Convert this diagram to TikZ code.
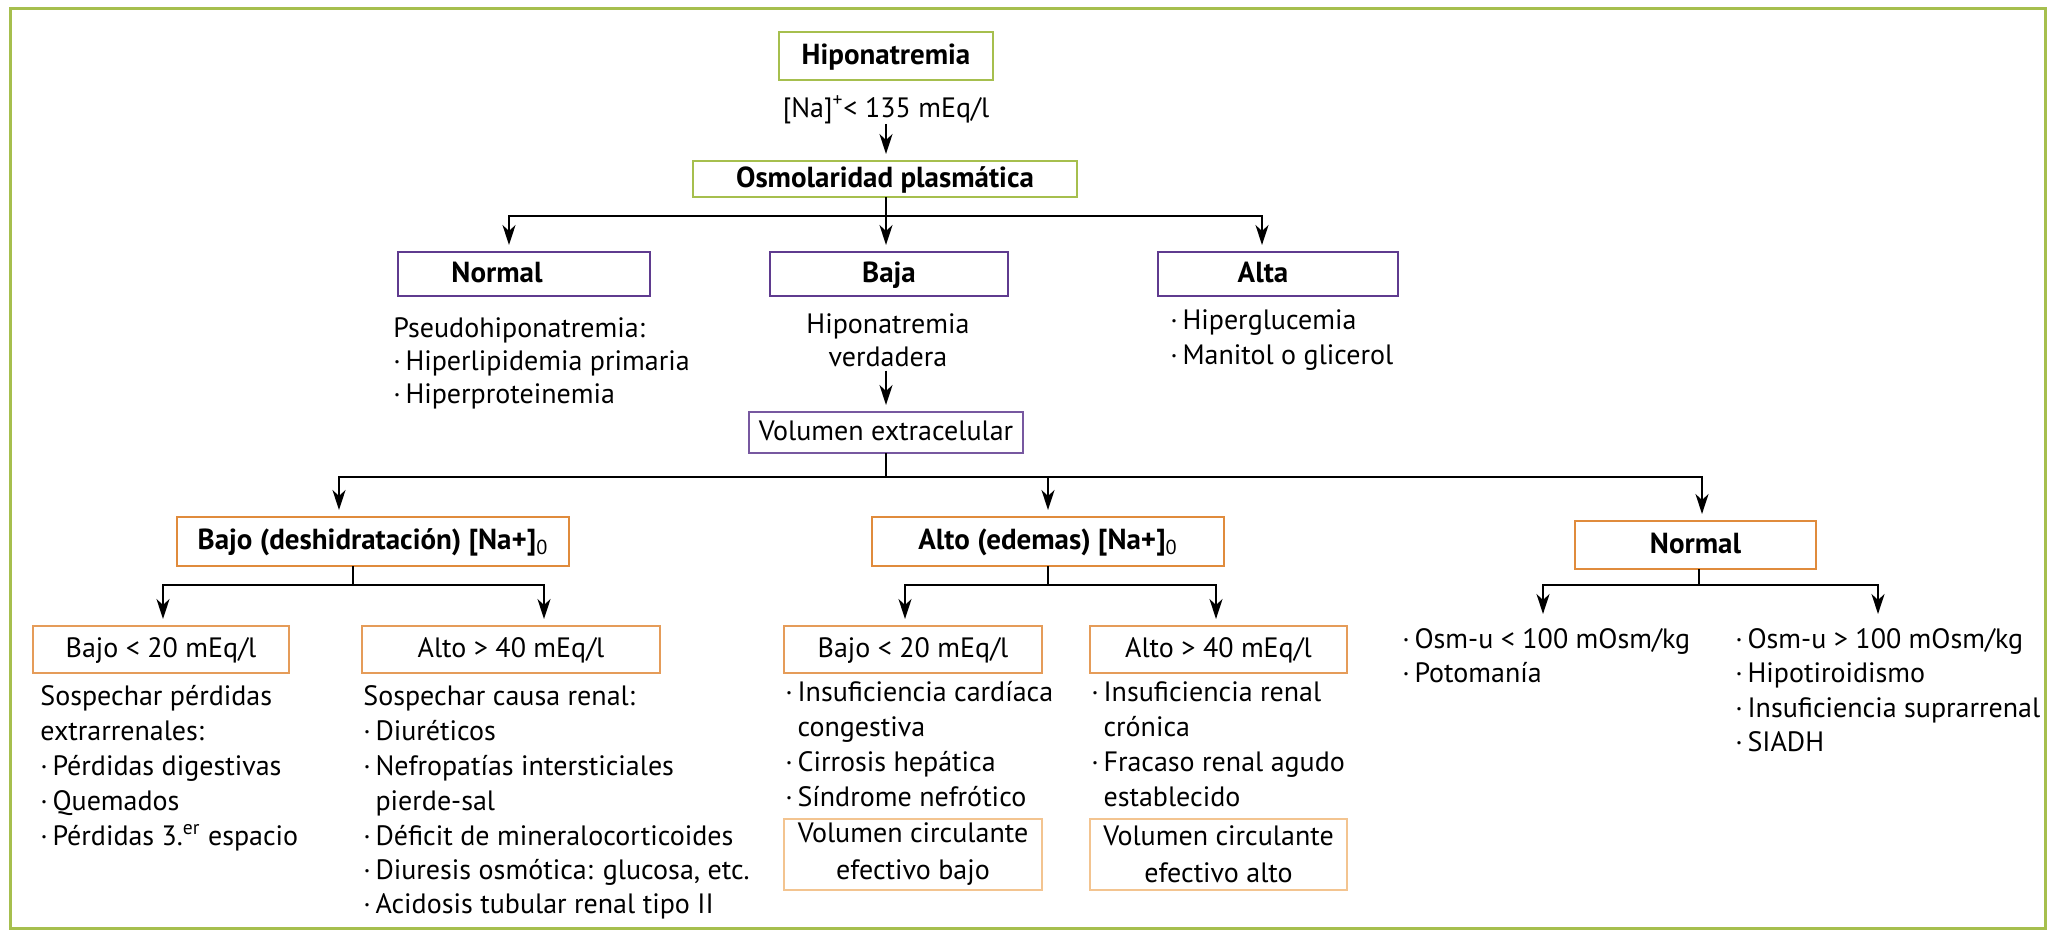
\documentclass[tikz,border=0pt]{standalone}
\usepackage{fontspec}
\setmainfont{PT Sans}
\usetikzlibrary{arrows.meta,calc}
\definecolor{cgreen}{HTML}{A6BF4E}
\definecolor{cpurple}{HTML}{5F3B8F}
\definecolor{corange}{HTML}{E08B3C}
\definecolor{clight}{HTML}{F3C490}
\newcommand\bodyfont{\fontsize{14bp}{17.5bp}\selectfont}
\newcommand\boldfont{\fontsize{14.5bp}{17.5bp}\selectfont\bfseries}
\tikzset{
 bx/.style={draw, inner sep=0pt, outer sep=0pt, anchor=center, text height=10.5bp, text depth=2.5bp},
 gbox/.style={bx, draw=cgreen, line width=1.3bp, font=\boldfont},
 pbox/.style={bx, draw=cpurple, line width=1.3bp, font=\boldfont},
 pboxl/.style={bx, draw=cpurple!85, line width=0.9bp, font=\bodyfont},
 obox/.style={bx, draw=corange, line width=1.3bp, font=\boldfont},
 oboxl/.style={bx, draw=corange!85, line width=1bp, font=\bodyfont},
 lbox/.style={draw=clight, line width=1bp, inner sep=0pt, outer sep=0pt, align=center, font=\fontsize{14bp}{18.5bp}\selectfont},
 lab/.style={inner sep=0pt, anchor=center, text height=10.5bp, text depth=2.5bp, font=\boldfont},
 txt/.style={inner sep=0pt, anchor=base west, font=\bodyfont},
 ctxt/.style={inner sep=0pt, anchor=base, font=\bodyfont},
 ln/.style={line width=1bp},
 arr/.style={line width=1bp, -{Stealth[length=10bp,width=6.5bp,inset=3bp]}, shorten >=3.5bp},
}
\newcommand\subz{\textsubscript{\mdseries 0}}
\begin{document}
\begin{tikzpicture}[x=0.5bp,y=-0.5bp]
\useasboundingbox (0,0) rectangle (2052,936);
\draw[cgreen, line width=1.5bp] (10,8) rectangle (2045,928);

% top
\node[gbox, minimum width=107bp, minimum height=24bp] (hipo) at (886,56) {Hiponatremia};
\node[ctxt] (natext) at (886,117) {[Na]\textsuperscript{+}< 135 mEq/l};
\node[gbox, minimum width=192bp, minimum height=18bp] (osm) at (885,179) {Osmolaridad plasmática};
\draw[arr] (natext.south) -- (natext.south |- osm.north);

% second level
\node[pbox, minimum width=126bp, minimum height=22bp] (normal1) at (524,274) {};
\node[lab] (normal1t) at (497,274) {Normal};
\node[pbox, minimum width=119bp, minimum height=22bp] (baja) at (889,274) {Baja};
\node[pbox, minimum width=120bp, minimum height=22bp] (alta) at (1278,274) {};
\node[lab] (altat) at (1263,274) {Alta};

\coordinate (j1) at (886,216);
\coordinate (nL) at (509,216);
\coordinate (nR) at (1262,216);
\draw[ln] (osm.south -| j1) -- (j1);
\draw[arr] (j1) -| (nL |- normal1.north);
\draw[arr] (j1) -| (nR |- alta.north);
\draw[arr] (osm.south -| j1) -- (j1 |- baja.north);

% texts under second level
\node[txt] (ps1) at (393,337) {Pseudohiponatremia:};
\node[txt] (ps2) at (393,370) {·\,Hiperlipidemia primaria};
\node[txt] (ps3) at (393,403) {·\,Hiperproteinemia};

\node[ctxt] (hv1) at (888,333) {Hiponatremia};
\node[ctxt] (hv2) at (888,366) {verdadera};

\node[txt] (al1) at (1170,329) {·\,Hiperglucemia};
\node[txt] (al2) at (1170,364) {·\,Manitol o glicerol};

\node[pboxl, minimum width=137bp, minimum height=20.5bp] (volext) at (886,432.5) {Volumen extracelular};
\draw[arr] (volext.north |- hv2.south) ++(0,4) -- (volext.north);

% third level
\node[obox, minimum width=196bp, minimum height=24.5bp] (bajod) at (373,541.5) {Bajo (deshidratación) [Na+]\subz};
\node[obox, minimum width=176bp, minimum height=24.5bp] (altoe) at (1048,541.5) {Alto (edemas) [Na+]\subz};
\node[obox, minimum width=120.5bp, minimum height=24bp] (normal2) at (1695.5,545) {Normal};

\coordinate (j2) at (886,477);
\coordinate (vL) at (339,477);
\coordinate (vR) at (1702,477);
\draw[ln] (volext.south) -- (j2);
\draw[arr] (j2) -| (vL |- bajod.north);
\draw[arr] (j2) -| (altoe.north);
\draw[arr] (j2) -| (vR |- normal2.north);

% fourth level boxes
\node[oboxl, minimum width=128bp, minimum height=23.5bp] (b20a) at (161,649.5) {Bajo < 20 mEq/l};
\node[oboxl, minimum width=149bp, minimum height=23.5bp] (a40a) at (511,649.5) {Alto > 40 mEq/l};
\node[oboxl, minimum width=129bp, minimum height=23.5bp] (b20b) at (913,649.5) {Bajo < 20 mEq/l};
\node[oboxl, minimum width=128.5bp, minimum height=23.5bp] (a40b) at (1218.5,649.5) {Alto > 40 mEq/l};

\coordinate (j3) at (353,585);
\coordinate (m3) at (163,585);
\coordinate (k3) at (544,585);
\draw[ln] (j3 |- bajod.south) -- (j3);
\draw[arr] (j3) -| (m3 |- b20a.north);
\draw[arr] (j3) -| (k3 |- a40a.north);

\coordinate (j4) at (1048,585);
\coordinate (m4) at (905,585);
\coordinate (k4) at (1216,585);
\draw[ln] (altoe.south) -- (j4);
\draw[arr] (j4) -| (m4 |- b20b.north);
\draw[arr] (j4) -| (k4 |- a40b.north);

\coordinate (j5) at (1699,585);
\coordinate (e1) at (1543,621);
\coordinate (e2) at (1878,621);
\draw[ln] (j5 |- normal2.south) -- (j5);
\draw[arr] (j5) -| (e1);
\draw[arr] (j5) -| (e2);

% column texts
\node[txt] (t11) at (40,705) {Sospechar pérdidas};
\node[txt] (t12) at (40,740) {extrarrenales:};
\node[txt] (t13) at (40,775) {·\,Pérdidas digestivas};
\node[txt] (t14) at (40,810) {·\,Quemados};
\node[txt] (t15) at (40,845) {·\,Pérdidas 3.\textsuperscript{er} espacio};

\node[txt] (t21) at (363,705) {Sospechar causa renal:};
\node[txt] (t22) at (363,740) {·\,Diuréticos};
\node[txt] (t23) at (363,775) {·\,Nefropatías intersticiales};
\node[txt] (t24) at (363,810) {\phantom{·\,}pierde-sal};
\node[txt] (t25) at (363,845) {·\,Déficit de mineralocorticoides};
\node[txt] (t26) at (363,879) {·\,Diuresis osmótica: glucosa, etc.};
\node[txt] (t27) at (363,913) {·\,Acidosis tubular renal tipo II};

\node[txt] (t31) at (785,701) {·\,Insuficiencia cardíaca};
\node[txt] (t32) at (785,736) {\phantom{·\,}congestiva};
\node[txt] (t33) at (785,771) {·\,Cirrosis hepática};
\node[txt] (t34) at (785,806) {·\,Síndrome nefrótico};

\node[txt] (t41) at (1091,701) {·\,Insuficiencia renal};
\node[txt] (t42) at (1091,736) {\phantom{·\,}crónica};
\node[txt] (t43) at (1091,771) {·\,Fracaso renal agudo};
\node[txt] (t44) at (1091,806) {\phantom{·\,}establecido};

\node[lbox, minimum width=129bp, minimum height=35.5bp] (vcb) at (913,854.5) {Volumen circulante\\efectivo bajo};
\node[lbox, minimum width=128.5bp, minimum height=35.5bp] (vca) at (1218.5,854.5) {Volumen circulante\\efectivo alto};

\node[txt] (t51) at (1402,648) {·\,Osm-u < 100 mOsm/kg};
\node[txt] (t52) at (1402,682) {·\,Potomanía};

\node[txt] (t61) at (1735,648) {·\,Osm-u > 100 mOsm/kg};
\node[txt] (t62) at (1735,682) {·\,Hipotiroidismo};
\node[txt] (t63) at (1735,717) {·\,Insuficiencia suprarrenal};
\node[txt] (t64) at (1735,751) {·\,SIADH};
\end{tikzpicture}
\end{document}
